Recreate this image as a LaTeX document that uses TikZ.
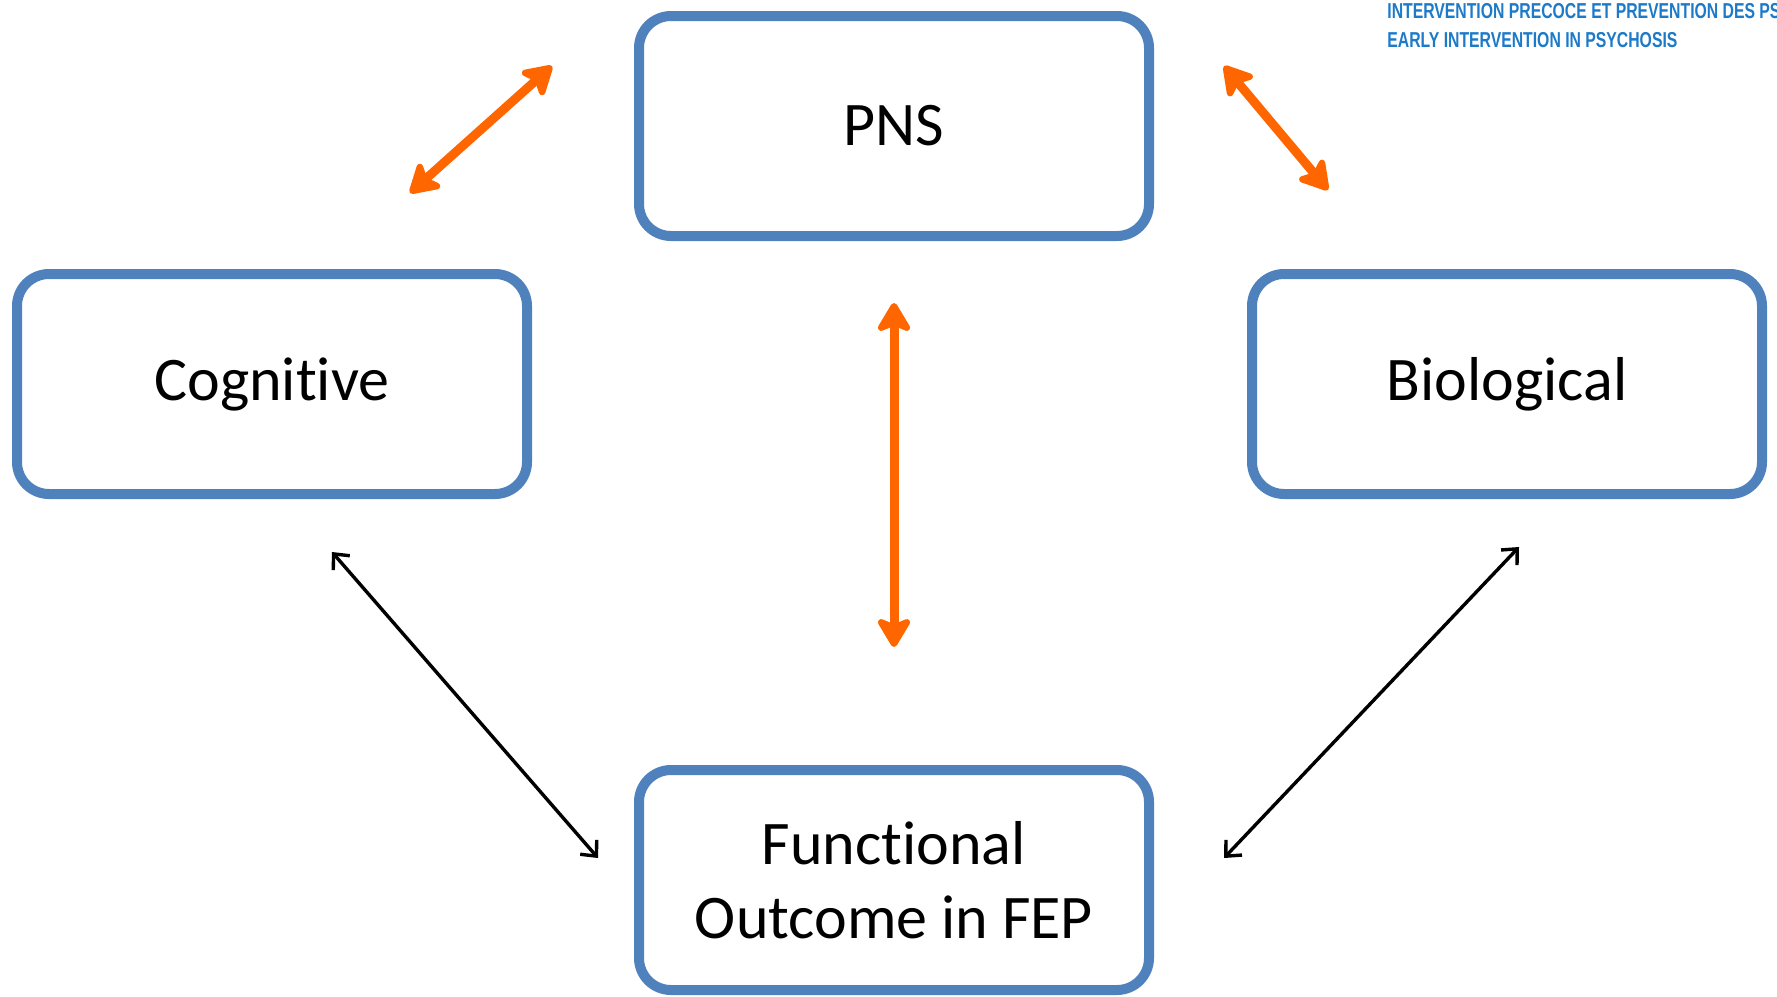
\documentclass[tikz,border=0pt]{standalone}
\usepackage{fontspec}
\setmainfont{Carlito}[Ligatures=NoCommon]
\newfontfamily\bannerfont{Liberation Sans}
\usetikzlibrary{positioning}
\usetikzlibrary{calc}
\usetikzlibrary{arrows.meta}
\definecolor{boxblue}{RGB}{79,129,189}
\definecolor{linkorange}{RGB}{255,102,0}
\definecolor{bannerblue}{RGB}{28,122,200}

\begin{document}
\begin{tikzpicture}[
    x=0.5pt, y=-0.5pt,
    factor/.style={rectangle, draw=boxblue, line width=5pt, rounded corners=16pt, fill=white,
                   minimum width=255pt, minimum height=110pt, align=center,
                   font=\fontsize{31}{37}\selectfont},
    orangelink/.style={draw=linkorange, line width=4.5pt,
                       {Stealth[round, length=17pt, width=20pt, inset=4pt]}-{Stealth[round, length=17pt, width=20pt, inset=4pt]}},
    blacklink/.style={draw=black, line width=1.7pt,
                      {Straight Barb[length=6pt, width=11pt]}-{Straight Barb[length=6pt, width=11pt]}},
    ]
        \useasboundingbox (0,0) rectangle (1777,996);

        \node[factor] (PNS) at (894,126) {PNS};
        \node[factor] (COG) at (272,384) {Cognitive};
        \node[factor] (BIO) at (1507,384) {Biological};
        \node[factor] (FUN) at (894,880) {Functional\\Outcome in FEP};

        % free ends of the links
        \coordinate (cogpns1) at (410,193);
        \coordinate (cogpns2) at (552,66);
        \coordinate (pnsbio1) at (1224,66);
        \coordinate (pnsbio2) at (1328,190);
        \coordinate (cogfun1) at (332,552);
        \coordinate (cogfun2) at (598,858);
        \coordinate (biofun1) at (1519,547);
        \coordinate (biofun2) at (1224,858);

        \draw[orangelink] (cogpns1) -- (cogpns2);
        \draw[orangelink] (pnsbio1) -- (pnsbio2);
        \draw[orangelink, shorten <=31pt, shorten >=59pt] (PNS.south) -- (FUN.north);
        \draw[blacklink] (cogfun1) -- (cogfun2);
        \draw[blacklink] (biofun1) -- (biofun2);

        \node[anchor=base west, inner sep=0pt, text=bannerblue] (BAN1) at (1387,18)
            {\scalebox{0.73}[1]{\bannerfont\bfseries\fontsize{10.8}{12}\selectfont INTERVENTION PRECOCE ET PREVENTION DES PSYCHOSES}};
        \node[anchor=base west, inner sep=0pt, text=bannerblue] (BAN2) at (1387,47)
            {\scalebox{0.73}[1]{\bannerfont\bfseries\fontsize{10.8}{12}\selectfont EARLY INTERVENTION IN PSYCHOSIS}};
    \end{tikzpicture}
\end{document}
